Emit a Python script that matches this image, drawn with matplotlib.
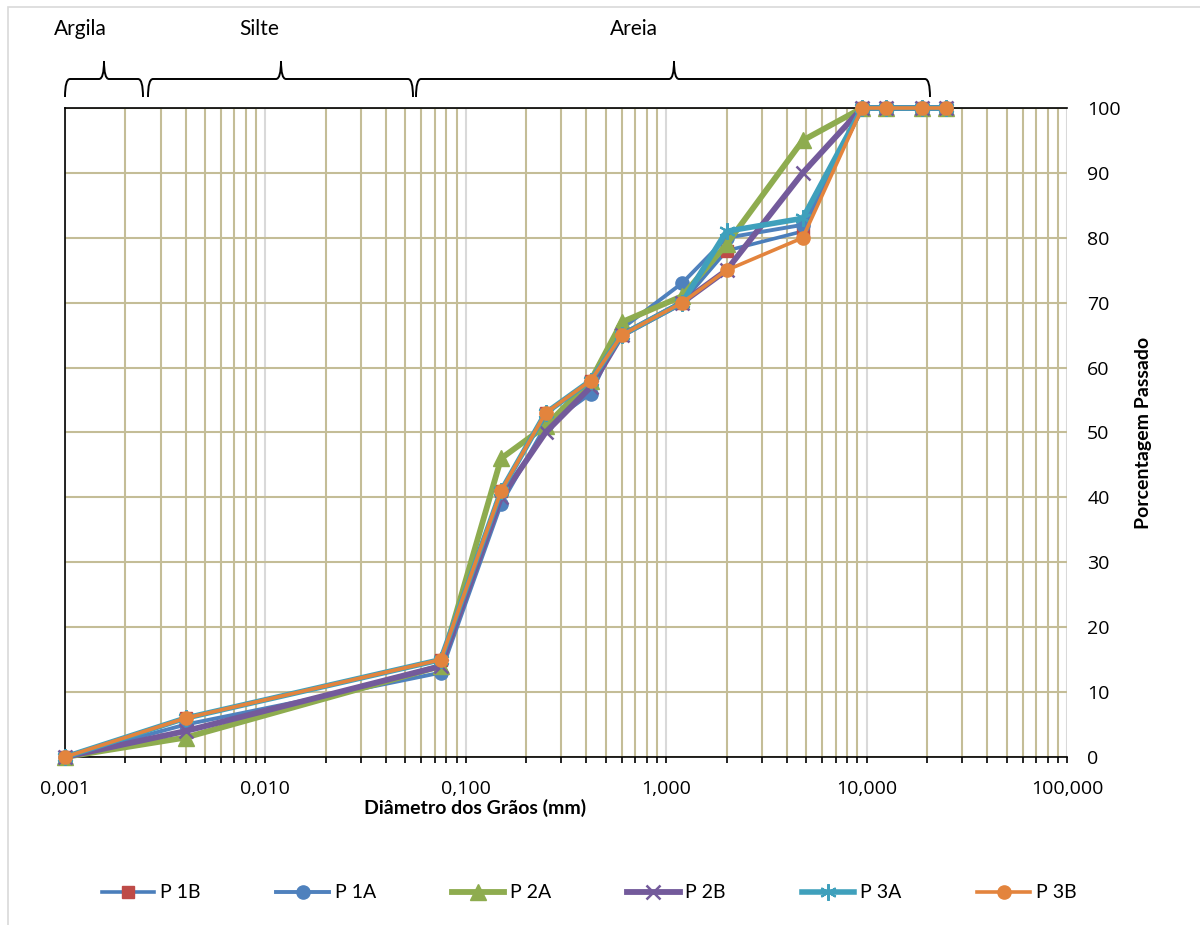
import matplotlib
matplotlib.use("Agg")
import matplotlib.pyplot as plt
from matplotlib.path import Path
from matplotlib.patches import PathPatch, Rectangle
from matplotlib.ticker import LogLocator, FixedLocator, FuncFormatter

# sieve / sedimentation diameters (mm)
diameters = [0.001, 0.004, 0.075, 0.15, 0.25, 0.42, 0.6, 1.2, 2.0, 4.8, 9.5, 12.5, 19.0, 25.0]

# percentage passing per sample
p1b = [0, 6, 15, 41, 53, 58, 65, 70, 78, 81, 100, 100, 100, 100]
p1a = [0, 5, 13, 39, 51, 56, 66, 73, 80, 82, 100, 100, 100, 100]
p2a = [0, 3, 14, 46, 51, 58, 67, 71, 79, 95, 100, 100, 100, 100]
p2b = [0, 4, 14, 40, 50, 57, 65, 70, 75, 90, 100, 100, 100, 100]
p3a = [0, 6, 15, 41, 53, 58, 65, 70, 81, 83, 100, 100, 100, 100]
p3b = [0, 6, 15, 41, 53, 58, 65, 70, 75, 80, 100, 100, 100, 100]

series_names = ["P 1B", "P 1A", "P 2A", "P 2B", "P 3A", "P 3B"]
x_ticks = [0.001, 0.01, 0.1, 1, 10, 100]
x_tick_labels = ["0,001", "0,010", "0,100", "1,000", "10,000", "100,000"]
y_ticks = list(range(0, 101, 10))

# fraction names and bracket extents (pixels: left, peak, right)
fractions = ["Argila", "Silte", "Areia"]
brace_px = [(65, 104, 143), (148, 281, 413), (416, 674, 930)]
label_px = [80, 259, 634]

TAN = "#C4BD97"
LIGHT = "#D9D9D9"
TEXT_FONT = ["Lato", "DejaVu Sans"]
NUM_FONT = ["Open Sans", "DejaVu Sans"]

W, H = 1200, 925
fig = plt.figure(figsize=(W / 100, H / 100), dpi=100)
ax = fig.add_axes([65 / W, 1 - 757 / H, (1067 - 65) / W, (757 - 108) / H])

styles = [
    dict(color="#4A7EBB", lw=2.6, marker="s", ms=8.5, mfc="#BE4B48", mec="#BE4B48"),
    dict(color="#4F81BD", lw=2.8, marker="o", ms=9.5, mfc="#4F81BD", mec="#4F81BD"),
    dict(color="#8EAC4F", lw=4.2, marker="^", ms=12, mfc="#8EAC4F", mec="#8EAC4F"),
    dict(color="#735A9B", lw=4.2, marker="x", ms=10, mew=1.8, mec="#735A9B"),
    dict(color="#3FA0BC", lw=4.0, marker=(6, 2, 0), ms=12, mew=1.5, mec="#3FA0BC"),
    dict(color="#E3843D", lw=2.6, marker="o", ms=9.5, mfc="#E3843D", mec="#E3843D"),
]

handles = []
for name, values, st in zip(series_names, [p1b, p1a, p2a, p2b, p3a, p3b], styles):
    (ln,) = ax.plot(diameters, values, label=name, clip_on=False, zorder=3,
                    solid_joinstyle="miter", **st)
    handles.append(ln)

ax.set_xscale("log")
ax.set_xlim(0.001, 100)
ax.set_ylim(0, 100)

ax.xaxis.set_major_locator(FixedLocator(x_ticks))
ax.xaxis.set_major_formatter(FuncFormatter(lambda v, p: x_tick_labels[x_ticks.index(v)] if v in x_ticks else ""))
ax.xaxis.set_minor_locator(LogLocator(base=10, subs=range(2, 10), numticks=20))
ax.xaxis.set_minor_formatter(FuncFormatter(lambda v, p: ""))
ax.yaxis.set_major_locator(FixedLocator(y_ticks))

ax.grid(which="major", axis="x", color=LIGHT, lw=1.5, zorder=0)
ax.grid(which="minor", axis="x", color=TAN, lw=1.5, zorder=0)
ax.grid(which="major", axis="y", color=TAN, lw=1.5, zorder=0)
ax.set_axisbelow(True)

for side in ["left", "bottom", "top"]:
    ax.spines[side].set_color("black")
    ax.spines[side].set_linewidth(1.2)
ax.spines["right"].set_visible(False)

ax.tick_params(axis="x", which="both", direction="out", length=4.5, width=1.2,
               color="black", labelsize=14, pad=12)
ax.tick_params(axis="y", which="both", left=False, right=False, labelleft=False,
               labelright=True, labelsize=14, pad=11)
for lab in ax.get_xticklabels() + ax.get_yticklabels():
    lab.set_family(NUM_FONT)

ax.set_ylabel("Porcentagem Passado", fontsize=14, fontweight="bold", family=TEXT_FONT,
              labelpad=10)
ax.yaxis.set_label_position("right")

fig.text(475 / W, 1 - 808 / H, "Diâmetro dos Grãos (mm)", ha="center", va="center",
         fontsize=14, fontweight="bold", family=TEXT_FONT)

# braces over the size fractions, drawn in pixel coordinates
yb, yh, yp, r = H - 97, H - 79, H - 61, 5
for (x0, xm, x1), name, lx in zip(brace_px, fractions, label_px):
    verts = [(x0, yb), (x0, yh), (x0 + r, yh),
             (xm - r, yh),
             (xm, yh), (xm, yp),
             (xm, yh), (xm + r, yh),
             (x1 - r, yh),
             (x1, yh), (x1, yb)]
    codes = [Path.MOVETO, Path.CURVE3, Path.CURVE3,
             Path.LINETO,
             Path.CURVE3, Path.CURVE3,
             Path.CURVE3, Path.CURVE3,
             Path.LINETO,
             Path.CURVE3, Path.CURVE3]
    fig.patches.append(PathPatch(Path(verts, codes), fill=False, lw=1.4, ec="black",
                                 transform=None, figure=fig))
    fig.text(lx / W, 1 - 29 / H, name, ha="center", va="center", fontsize=15,
             family=TEXT_FONT)

# chart area border
fig.patches.append(Rectangle((8 / W, -0.1), 1.2, 1 - 7 / H + 0.1, fill=False,
                             ec="#D9D9D9", lw=1.2, transform=fig.transFigure, figure=fig))

fig.legend(handles=handles, loc="center", bbox_to_anchor=(589 / W, 1 - 893 / H), ncol=6,
           frameon=False, prop={"family": TEXT_FONT, "size": 14}, handlelength=2.7,
           columnspacing=3.9, handletextpad=0.3, numpoints=1)

fig.savefig("out.png", dpi=100, facecolor="white")
